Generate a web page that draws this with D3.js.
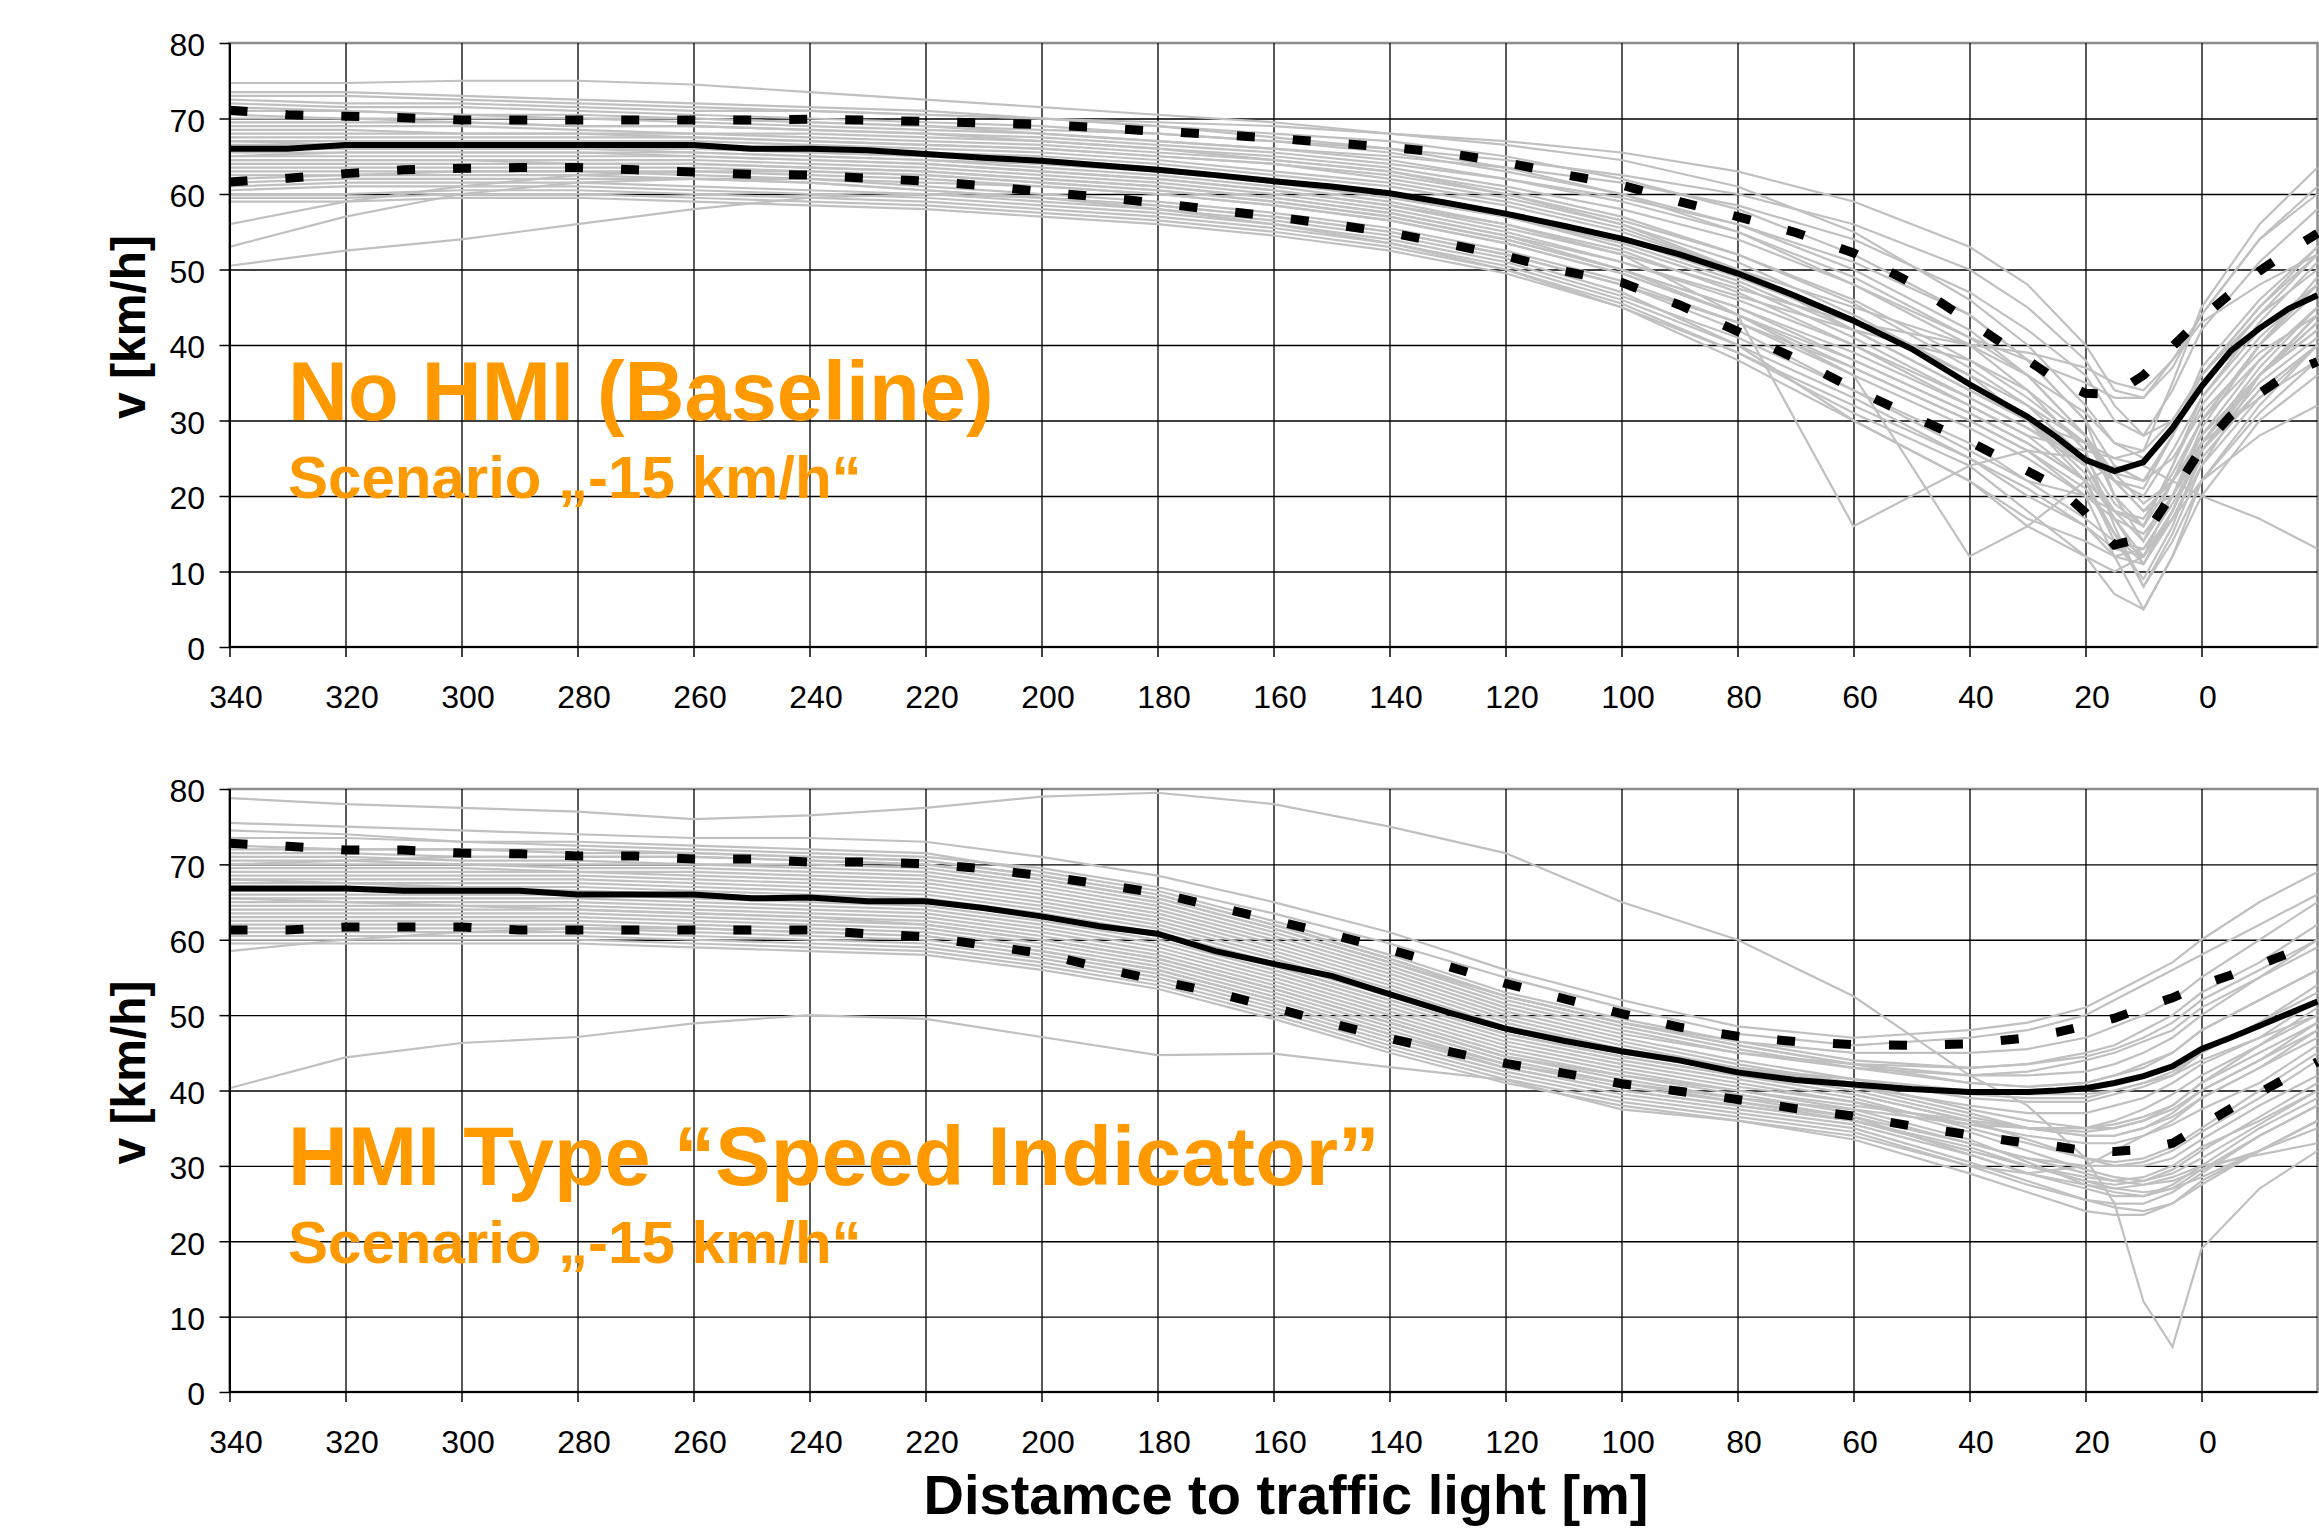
<!DOCTYPE html>
<html>
<head>
<meta charset="utf-8">
<title>Speed profiles approaching a traffic light</title>
<script src="https://cdn.jsdelivr.net/npm/d3@7/dist/d3.min.js"></script>
<style>
  body { margin: 0; background: #fff; }
  text { font-family: "Liberation Sans", Arial, sans-serif; }
</style>
</head>
<body>
<div id="chart-area"></div>
<script>

// distance to the traffic light [m] at which every single run is sampled
const runDistances = [340, 320, 300, 280, 260, 240, 220, 200, 180, 160, 140, 120, 100, 80, 60, 40, 30, 20, 15, 10, 5, 0, -10, -20];

// distances for mean and mean +/- sd curves
const statDistances = [340, 330, 320, 310, 300, 290, 280, 270, 260, 250, 240, 230, 220, 210, 200, 190, 180, 170, 160, 150,
                       140, 130, 120, 110, 100, 90, 80, 70, 60, 50, 40, 30, 25, 20, 15, 10, 5, 0, -5, -10, -15, -20];

const xTickValues = [340, 320, 300, 280, 260, 240, 220, 200, 180, 160, 140, 120, 100, 80, 60, 40, 20, 0];
const yTickValues = [0, 10, 20, 30, 40, 50, 60, 70, 80];

// ---- No HMI (Baseline) ----
const baselineRuns = [
    [74.7,74.7,75,75,74.5,73.5,72.5,71.5,70.5,69.5,68,66.5,64.5,61,55,46,40,32,27,26,30,36,44,50],
    [73,73,72.5,72,71.5,71,70.5,70,69,68,67,65,62,58,52,44,38,30,24,22,28,35,44,52],
    [72.5,72,72,71.5,71,71,70.5,70,69.5,69,68,67,65.5,63,59,53,48,40,34,33,37,44,54,61],
    [72,71.5,71.5,71,70.5,70,69.5,69,68,67,65.5,63,60,56,50,42,36,28,22,20,26,33,43,51],
    [71.5,71,70.5,70.5,70,69.5,69,68.5,68,67,66,64.5,62.5,60,56,50,45,38,32,28,30,36,45,53],
    [71,71,70.5,70,70,69.5,69,68,67,66,64.5,62,59,55,49,41,36,28,20,16,22,30,38,45],
    [70.5,70,70,70,69.5,69,68.5,68,67,66,65,63.5,61.5,58.5,54,47,42,36,30,28,34,42,51,58],
    [70,70,69.5,69,69,68.5,68,67.5,66.5,65.5,64,62,59.5,56,51,44,38,30,20,14,22,30,40,48],
    [69,69,69,68.5,68,68,67.5,67,66,65,63.5,61,58,54,48,40,34,26,16,8,15,24,36,44],
    [68.5,68.5,68,68,68,67.5,67,66.5,65.5,64.5,63,60.5,57,52,46,38,33,27,23,22,28,36,45,52],
    [68,68,68,68,67.5,67,66.5,66,65,64,62.5,60,56.5,52,45.5,37,32,25,19,16,24,32,41,48],
    [67.5,67.5,67.5,67.5,67.5,67,66.5,66,65,64,62,59.5,56,51,44,36,30,22,14,9,16,26,36,43],
    [67,67,67,67,67,66.5,66,65.5,64.5,63,61.5,59,55.5,50,43.5,35,30,23,17,12,18,27,36,42],
    [66.5,66.5,66.5,66.5,66.5,66,65.5,65,64,62.5,61,58.5,55,50,45,40,36,31,27,25,29,35,42,47],
    [66,66,66,66,66,65.5,65,64.5,63.5,62,60,57.5,54,49,43,36,32,27,22,18,22,28,36,42],
    [65.5,65.5,65.5,65.5,65.5,65,64.5,64,63,61.5,59.5,57,53.5,48.5,42,34,30,24,17,11,18,26,36,44],
    [65,65,65,65,65,64.5,64,63,62,60.5,58.5,56,52.5,47,40,32,28,22,18,16,24,33,42,48],
    [64.5,64.5,64.5,64.5,64.5,64,63.5,62.5,61.5,60,58,55,51,46,40,33,29,25,22,21,28,37,46,53],
    [64,64,64,64,64,63.5,63,62,61,59.5,57.5,54.5,51,46.5,42,38,34,28,23,19,22,27,33,38],
    [63.5,63.5,63.5,63.5,63.5,63,62.5,61.5,60.5,59,57,54,50,45,38,31,27,22,15,8,14,22,32,40],
    [63,63,63,63,63,62.5,62,61,60,58.5,56.5,53.5,49.5,44,37,30,26,20,12,5,12,22,31,38],
    [62,62.5,63,63,62.5,62,61,60,59,57.5,55.5,52.5,48.5,43,36,29,25,20,17,15,20,27,36,44],
    [61.5,62,62,62,62,61.5,60.5,59.5,58.5,57,55,52,48,42,34,26,22,20,18,17,23,30,40,47],
    [61,61.5,61.5,61.5,61,60.5,60,59,58,56.5,54.5,51.5,47,40,30,22,16,12,10,12,20,28,38,45],
    [60.5,61,61,61,60.5,60,59.5,58.5,57.5,56,54,51,46.5,41,34,27,22,17,14,13,19,26,35,41],
    [60,60,60.5,60.5,60,59.5,59,58,57,55.5,53.5,50.5,46,40,33,25,21,16,12,11,17,25,34,40],
    [59.5,59.5,60,60,59.5,59,58.5,57.5,56.5,55,53,50,45.5,39,31,24,18,12,7,5,12,20,30,36],
    [59,59,59.5,59.5,59,58.5,58,57,56,54.5,52.5,49.5,45,38,30,22,17,14,12,13,17,22,28,32],
    [56,59,61,62.5,63,63,62.5,61.5,60.5,59,57,54,50,45,39,32,28,26,25,24,22,20,17,13],
    [53,57,60,61.5,62,62,61.5,61,60,58.5,56.5,53.5,49.5,44,38,31,27,22,15,11,18,27,37,45],
    [50.5,52.5,54,56,58,59.5,60,59.5,58.5,57,55,52,48,43,37,30,26,21,15,12,17,24,33,40],
    [73.5,73.5,73,72.5,72,71.5,71,70,69,67.5,66,63.5,60,55,48,41,38,35,33,33,38,44,54,60],
    [69.5,69.5,69.5,69,69,68.5,68,67,66,64.5,63,60,56,50,42,34,30,27,25,26,35,45,56,63.5],
    [67,66.5,66.5,66,66,65.5,65,64,63,61.5,59.5,57,53,48,41,33,29,24,18,14,20,29,40,49],
    [65,65.5,65.5,65.5,65,64.5,64,63,62,60.5,58.5,55.5,52,47.5,43,40,39,37,35,34,38,43,48,52],
    [62.5,62.5,62.5,62.5,62,61.5,60.5,59.5,58,56,53.5,50,45,39,32,25,20,16,13,12,18,27,36,43],
    [66,66,66,66,65.5,65,64.5,63.5,62.5,61,59,56,52,44,16,24,26,25,22,18,20,26,34,40],
    [64.5,64.5,64.5,64,64,63.5,63,62,61,59.5,57.5,54.5,50,44,36,12,16,22,24,22,25,31,39,44]
];

const baselineMean = [66,66,66.5,66.5,66.5,66.5,66.5,66.5,66.5,66,66,65.8,65.3,64.8,64.4,63.8,63.2,62.5,61.7,61,
                      60.1,58.8,57.4,55.8,54.1,52,49.5,46.5,43.2,39.5,34.8,30.5,27.8,24.8,23.3,24.5,29,34.5,39.2,42.2,44.8,46.6];
const baselineUpper = [71.1,70.5,70.3,70.1,69.8,69.8,69.8,69.8,69.8,69.8,69.9,69.8,69.6,69.4,69.2,68.8,68.3,67.9,67.4,66.8,
                       66.2,65.4,64.2,62.6,61.2,59,57,54.9,52.2,48.2,43.1,38,35.4,33.6,33.5,36,39.8,43.6,46.8,49.8,52.4,54.8];
const baselineLower = [61.6,62.1,62.7,63.2,63.4,63.5,63.5,63.2,62.9,62.6,62.5,62.1,61.7,61.1,60.3,59.6,58.8,57.9,57,56,
                       54.9,53.4,51.8,49.8,48.3,45.3,41.8,38.2,34.2,30.6,27.2,23.3,21.3,17.8,13.5,14.5,20.3,26.3,30.6,33.6,36.2,37.8];

// ---- HMI Type "Speed Indicator" ----
const indicatorRuns = [
    [78.8,78,77.5,77,76,76.5,77.5,79,79.5,78,75,71.5,65,60,52.5,42,38,31,25,12,6,19,27,32],
    [40.3,44.4,46.3,47.1,48.9,50,49.5,47.1,44.7,44.9,43.1,41.4,37.5,36,34,30,29,30,32,34,36,39,43,47],
    [75.5,75,74.5,74,73.5,73.5,73,71,68.5,65,61,56,52,48.5,47,48,49,51,53,55,57,60,65,69],
    [74.5,74,73,72.5,72,71.5,71,69.5,67,63.5,59.5,55,51,47.5,46,47,48,50,52,54,56,58,62,66],
    [73.5,73.5,73,73,72.5,72,71.5,69,66.5,62.5,58,53,49.5,46.5,44,43,43.5,45,46,48,50,53,57,62],
    [72.5,72,72,71.5,71.5,71,70.5,68.5,66,62,57.5,52.5,49,46,43.5,42,42,42.5,43.5,45,47,50,55,60],
    [71.5,71.5,71,71,71,70.5,70,68,65.5,61.5,57,52,48.5,45.5,43,41,40.5,41,42,43,45,48,52,56],
    [71,71,70.5,70.5,70,70,69.5,67.5,65,61,56.5,51.5,48,45,43.5,43,43.5,44.5,45.5,47,49,52,56,60],
    [70.5,70.5,70,70,70,69.5,69,67,64.5,60.5,56,51,47.5,45,43,42,42.5,44,45,46.5,48,51,55,59],
    [70,70,70,69.5,69.5,69,68.5,66.5,64,60,55.5,50.5,47,44,41.5,39,38.5,38.5,39.5,40.5,42,45,49,54],
    [69.5,69.5,69.5,69,69,68.5,68,66,63.5,59.5,55,50,46.5,43.5,41,37.5,36,35,35,36,38,41,46,50],
    [69,69,69,69,68.5,68,67.5,65.5,63,59,54.5,49.5,46,43,40.5,37,35,34,34,35,37,40,44,49],
    [68.5,68.5,68.5,68.5,68,67.5,67,65,62.5,58.5,54,49,45.5,43,41,39.5,39,39,40,41,42.5,45,49,53],
    [68,68,68,68,67.5,67,66.5,64.5,62,58,53.5,48.5,45.5,43,41.5,40,39.5,39.5,40,41,42,44,47,50],
    [67.5,67.5,67.5,67.5,67,66.5,66,64,61.5,57.5,53,48,45,42.5,40,36.5,35,34,34,35,36.5,39,43,48],
    [67,67,67,67,66.5,66,65.5,63.5,61,57,52.5,48,45,42.5,40.5,38,37,37,38,39,41,43.5,47,52],
    [66.5,66.5,66.5,66.5,66,65.5,65,63,60.5,56.5,52,47.5,44.5,42,39.5,36,33.5,31,30.5,31,32.5,35,40,45],
    [66,66,66,66,65.5,65,64.5,62.5,60,56,51.5,47,44,41.5,39,35,33,31,30,30,31,33.5,38,42],
    [65.5,65.5,65.5,65.5,65,64.5,64,62,59.5,55.5,51,46.5,43.5,41,38.5,34.5,32,29.5,28.5,28,29,31,35.5,40],
    [65,65,65,65,64.5,64,63.5,61.5,59,55,50.5,46,43,40.5,38.5,35.5,34,33,33,34,35.5,37.5,41,46],
    [64.5,64.5,64.5,64.5,64,63.5,63,61,58.5,54.5,50,45.5,42.5,40,37.5,33.5,30.5,27.5,26.5,26,27,29.5,34,38],
    [64,64,64,64,63.5,63,62.5,60.5,58,54,49.5,45,42,39.5,37,33,31,29,28,27.5,28,29.5,32,35],
    [63.5,63.5,63.5,63.5,63,62.5,62,60,57.5,53.5,49,44.5,42,40,38,36,35,34.5,35,36,37.5,40,44,48],
    [63,63,63,63,62.5,62,61.5,59.5,57,53,48.5,44,41,38.5,36,32,30,28,27,26.5,27,28.5,32,36],
    [62.5,62.5,62.5,62.5,62,61.5,61,59,56.5,52.5,48,43.5,41,39,37.5,35.5,35,35,35.5,36.5,38,41,45,49],
    [62,62,62,62,61.5,61,60.5,58.5,56,52,47.5,43.5,40.5,38.5,36.5,33,31,30,30,30.5,32,34.5,39,44],
    [61.5,61.5,61.5,61.5,61,60.5,60,58,55.5,51.5,47,43,40,38,36,32.5,30,28,27.5,28,29.5,32,36.5,41],
    [61,61,61,61,60.5,60,59.5,57.5,55,51,46.5,42.5,39.5,37.5,35.5,31.5,29,27,26,26,27.5,30,35,39],
    [60.5,60.5,60.5,60.5,60,59.5,59,57,54.5,50.5,46,42,39,37,35,30.5,28,25.5,24.5,24,25,27.5,32,36],
    [60,60,60,60,59.5,59,58.5,56.5,54,50,45.5,41.5,38.5,36.5,34.5,30,27.5,25.5,25,25,26.5,29,34,38],
    [59.5,59.5,59.5,59.5,59,58.5,58,56,53.5,49.5,45,41,38,36,33.5,29,26.5,24,23.5,23.5,25,28,32,36],
    [58.5,60,61,61.5,61.5,61,60.5,58.5,56,52,47.5,43,40,38,36,32,30,28.5,28,28.5,30,32.5,36,40],
    [70,70.5,71,71,71,70.5,70,68,65.5,61.5,57,52.5,49,46.5,45,45,45.5,47,48.5,50,52,55,60,65],
    [72,72,72,72,71.5,71,70.5,68.5,66,62,57.5,52.5,49,46,43.5,41,40.5,41,42,43.5,45,48,52,56],
    [65.5,65,64.5,64,63.5,63,62,60,57.5,53.5,49,44.5,41.5,39,36.5,31.5,29,27.5,27,27.5,28.5,30,31.5,33],
    [68,67.5,67,66.5,66,65.5,65,63,60.5,56.5,52,47.5,44.5,42,39.5,36,35,35,36,37.5,39.5,42,46,51]
];

const indicatorMean = [66.8,66.8,66.8,66.5,66.5,66.5,66,66,66,65.5,65.6,65.1,65.1,64.2,63.1,61.8,60.8,58.5,56.8,55.2,
                       52.8,50.4,48.2,46.6,45.2,44,42.4,41.4,40.8,40.2,39.8,39.8,40,40.3,41,41.9,43.2,45.5,47,48.6,50.2,51.8];
const indicatorUpper = [72.8,72.4,71.9,71.9,71.5,71.4,71.1,71.1,70.7,70.7,70.3,70.3,70.1,69.4,68.5,67.4,66.2,64.4,62.6,60.7,
                        58.7,56.5,54.2,52.2,50.2,48.4,47.2,46.5,46.1,46,46.2,47,47.7,48.6,49.6,51,52.3,54,55.3,56.7,58.2,59.6];
const indicatorLower = [61.3,61.3,61.7,61.7,61.7,61.3,61.3,61.3,61.3,61.3,61.3,60.8,60.4,59.3,58.2,56.3,54.6,53,51,48.9,
                        46.9,45.2,43.6,42.3,40.9,39.9,38.8,37.6,36.6,35.3,34.1,33,32.6,32,31.9,32.2,33,35.3,37.6,39.7,41.8,43.8];

/*
 * SpeedProfileChart - one panel: single runs (grey), mean (solid) and mean +/- sd (dashed)
 */
class SpeedProfileChart {

    constructor(svg, top, bottom, runs, mean, upper, lower, title, subtitle, titleY) {
        this.svg = svg;
        this.top = top;
        this.bottom = bottom;
        this.runs = runs;
        this.mean = mean;
        this.upper = upper;
        this.lower = lower;
        this.title = title;
        this.subtitle = subtitle;
        this.titleY = titleY;
        this.left = 229.5;
        this.right = 2317.5;

        this.initVis();
    }

    initVis() {
        let vis = this;

        vis.g = vis.svg.append("g");

        vis.x = d3.scaleLinear()
            .domain([340, -20])
            .range([vis.left, vis.right]);

        vis.y = d3.scaleLinear()
            .domain([0, 80])
            .range([vis.bottom, vis.top]);

        // plot area border (grey, visible top and right)
        vis.g.append("rect")
            .attr("x", vis.left)
            .attr("y", vis.top)
            .attr("width", vis.right - vis.left)
            .attr("height", vis.bottom - vis.top)
            .attr("fill", "none")
            .attr("stroke", "#8c8c8c")
            .attr("stroke-width", 2.5);

        // gridlines
        let xGrid = d3.axisBottom(vis.x)
            .tickValues(xTickValues)
            .tickSize(-(vis.bottom - vis.top))
            .tickFormat("");
        vis.g.append("g")
            .attr("transform", "translate(0," + vis.bottom + ")")
            .call(xGrid)
            .call(g => g.select(".domain").remove())
            .call(g => g.selectAll("line").attr("stroke", "#000").attr("stroke-width", 1.3));

        let yGrid = d3.axisLeft(vis.y)
            .tickValues(yTickValues.filter(d => d > 0 && d < 80))
            .tickSize(-(vis.right - vis.left))
            .tickFormat("");
        vis.g.append("g")
            .attr("transform", "translate(" + vis.left + ",0)")
            .call(yGrid)
            .call(g => g.select(".domain").remove())
            .call(g => g.selectAll("line").attr("stroke", "#000").attr("stroke-width", 1.3));

        // single runs
        let runLine = d3.line()
            .x((d, i) => vis.x(runDistances[i]))
            .y(d => vis.y(d));

        vis.g.selectAll(".run")
            .data(vis.runs)
            .enter()
            .append("path")
            .attr("class", "run")
            .attr("d", runLine)
            .attr("fill", "none")
            .attr("stroke", "#c0c0c0")
            .attr("stroke-width", 2.2);

        // mean +/- sd and mean
        let statLine = d3.line()
            .x((d, i) => vis.x(statDistances[i]))
            .y(d => vis.y(d));

        vis.g.selectAll(".band")
            .data([vis.upper, vis.lower])
            .enter()
            .append("path")
            .attr("class", "band")
            .attr("d", statLine)
            .attr("fill", "none")
            .attr("stroke", "#000")
            .attr("stroke-width", 9)
            .attr("stroke-dasharray", "18,38");

        vis.g.append("path")
            .datum(vis.mean)
            .attr("d", statLine)
            .attr("fill", "none")
            .attr("stroke", "#000")
            .attr("stroke-width", 6);

        // axes
        let xAxis = d3.axisBottom(vis.x)
            .tickValues(xTickValues)
            .tickSize(10)
            .tickSizeOuter(0);
        vis.g.append("g")
            .attr("transform", "translate(0," + vis.bottom + ")")
            .call(xAxis)
            .call(g => g.select(".domain").attr("d", "M" + vis.left + ",0H" + vis.right)
                .attr("stroke", "#000").attr("stroke-width", 2))
            .call(g => g.selectAll("line").attr("stroke", "#000").attr("stroke-width", 1.5))
            .call(g => g.selectAll("text")
                .attr("y", 61).attr("dy", null).attr("dx", 6)
                .attr("font-size", 32).attr("fill", "#000")
                .attr("font-family", "Liberation Sans, Arial, sans-serif"));

        let yAxis = d3.axisLeft(vis.y)
            .tickValues(yTickValues)
            .tickSize(10)
            .tickSizeOuter(0);
        vis.g.append("g")
            .attr("transform", "translate(" + vis.left + ",0)")
            .call(yAxis)
            .call(g => g.select(".domain").attr("stroke", "#000").attr("stroke-width", 2))
            .call(g => g.selectAll("line").attr("stroke", "#000").attr("stroke-width", 1.5))
            .call(g => g.selectAll("text")
                .attr("x", -24.5).attr("dy", "0.4em")
                .attr("font-size", 32).attr("fill", "#000")
                .attr("font-family", "Liberation Sans, Arial, sans-serif"));

        // y axis title
        let midY = (vis.top + vis.bottom) / 2 - 18;
        vis.g.append("text")
            .attr("transform", "translate(145," + midY + ") rotate(-90)")
            .attr("text-anchor", "middle")
            .attr("font-size", 48)
            .attr("font-weight", "bold")
            .text("v [km/h]");

        // scenario label
        vis.g.append("text")
            .attr("x", 288)
            .attr("y", vis.titleY)
            .attr("font-size", 83)
            .attr("font-weight", "bold")
            .attr("fill", "#ff9900")
            .text(vis.title);

        vis.g.append("text")
            .attr("x", 288)
            .attr("y", vis.titleY + 78)
            .attr("font-size", 60)
            .attr("font-weight", "bold")
            .attr("fill", "#ff9900")
            .text(vis.subtitle);
    }
}

let svg = d3.select("#chart-area").append("svg")
    .attr("width", 2319)
    .attr("height", 1528);

svg.append("rect")
    .attr("width", 2319)
    .attr("height", 1528)
    .attr("fill", "#fff");

new SpeedProfileChart(svg, 43, 647, baselineRuns, baselineMean, baselineUpper, baselineLower,
    "No HMI (Baseline)", "Scenario \u201E-15 km/h\u201C", 420);

new SpeedProfileChart(svg, 789, 1392, indicatorRuns, indicatorMean, indicatorUpper, indicatorLower,
    "HMI Type \u201CSpeed Indicator\u201D", "Scenario \u201E-15 km/h\u201C", 1185);

// x axis title
svg.append("text")
    .attr("x", 1286)
    .attr("y", 1514)
    .attr("text-anchor", "middle")
    .attr("font-size", 56)
    .attr("font-weight", "bold")
    .text("Distamce to traffic light [m]");

</script>
</body>
</html>
